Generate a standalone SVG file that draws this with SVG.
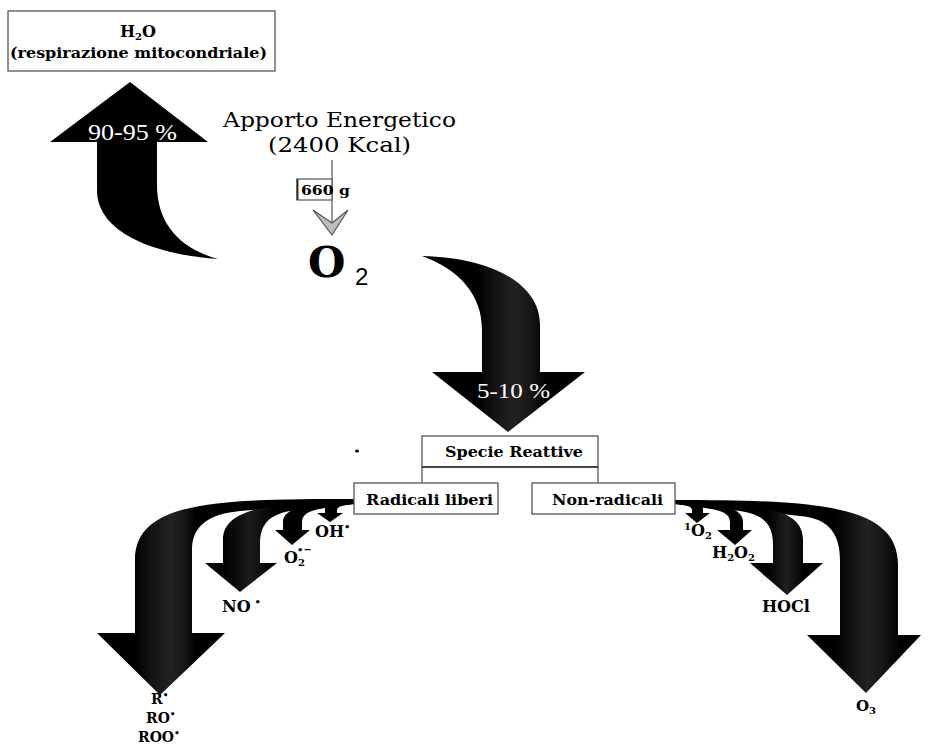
<svg xmlns="http://www.w3.org/2000/svg" width="929" height="750" viewBox="0 0 929 750">
<style>
.bx{fill:#fff;stroke:#555;stroke-width:1.3}
.t{font-family:"DejaVu Serif","Liberation Serif",serif;fill:#000}
.b{font-weight:bold}
.w{font-family:"Liberation Serif","Times New Roman",serif;fill:#fff}
.lbl{font-family:"DejaVu Serif","Liberation Serif",serif;font-weight:bold;fill:#000}
</style>
<defs>
<linearGradient id="gDown" gradientUnits="userSpaceOnUse" x1="478" y1="0" x2="545" y2="0">
<stop offset="0" stop-color="#000"/><stop offset="0.3" stop-color="#161616"/><stop offset="0.55" stop-color="#222"/><stop offset="0.8" stop-color="#161616"/><stop offset="1" stop-color="#000"/></linearGradient>
<linearGradient id="gR" gradientUnits="userSpaceOnUse" x1="135" y1="0" x2="195" y2="0">
<stop offset="0" stop-color="#000"/><stop offset="0.3" stop-color="#151515"/><stop offset="0.6" stop-color="#222"/><stop offset="0.85" stop-color="#151515"/><stop offset="1" stop-color="#000"/></linearGradient>
<linearGradient id="gNO" gradientUnits="userSpaceOnUse" x1="225" y1="0" x2="275" y2="0">
<stop offset="0" stop-color="#000"/><stop offset="0.5" stop-color="#1c1c1c"/><stop offset="1" stop-color="#000"/></linearGradient>
<linearGradient id="gHO" gradientUnits="userSpaceOnUse" x1="768" y1="0" x2="805" y2="0">
<stop offset="0" stop-color="#000"/><stop offset="0.5" stop-color="#1e1e1e"/><stop offset="1" stop-color="#000"/></linearGradient>
<linearGradient id="gO3" gradientUnits="userSpaceOnUse" x1="835" y1="0" x2="900" y2="0">
<stop offset="0" stop-color="#000"/><stop offset="0.3" stop-color="#151515"/><stop offset="0.5" stop-color="#222"/><stop offset="0.75" stop-color="#151515"/><stop offset="1" stop-color="#000"/></linearGradient>
</defs>
<rect width="929" height="750" fill="#fff"/>

<g id="connectors">
<path id="arrow-up" d="M97,142 L50,142 L130,82 L208,142 L157,142 L157,185 C157,222 178,248 218,259 C160,255 97,235 97,190 Z" fill="#000"/>
<path id="arrow-down" d="M422,256 C495,258 540,285 540,325 L540,372 L585,372 L508,432 L432,372 L482,372 L482,330 C482,295 460,270 422,256 Z" fill="url(#gDown)"/>
<g id="gray-arrow">
<line x1="332" y1="160" x2="332" y2="222" stroke="#777" stroke-width="1.5"/>
<polygon points="313,210 332,223 348,210 332,235" fill="#bdbdbd" stroke="#555" stroke-width="1.2"/>
</g>
<g id="fan-left">
<path d="M354,499 C220,499 135,500 135,560 L135,633 L97,633 L160,695 L225,633 L192,633 L192,550 C192,525 210,514 240,511 L354,502 Z" fill="url(#gR)"/>
<path d="M354,501 C270,503 223,508 223,540 L223,563 L205,563 L240,592 L277,563 L260,563 L260,545 C260,525 268,515 290,511 L354,503 Z" fill="url(#gNO)"/>
<path d="M354,502 C305,504 283,508 283,522 L283,530 L275,530 L292,545 L310,530 L302,530 L302,522 C302,514 310,510 325,508 L354,504 Z" fill="#000"/>
<path d="M354,502 C335,502 325,504 325,509 L325,513 L317,513 L330,522 L343,513 L337,513 L337,510 C337,507 342,505 354,504 Z" fill="#000"/>
</g>
<g id="fan-right">
<path d="M675,500 C820,500 898,505 898,565 L898,635 L921,635 L866,693 L807,635 L840,635 L840,560 C840,530 825,518 800,516 L675,502 Z" fill="url(#gO3)"/>
<path d="M675,501 C760,503 803,508 803,540 L803,563 L823,563 L787,595 L750,563 L773,563 L773,545 C773,525 765,515 740,511 L675,503 Z" fill="url(#gHO)"/>
<path d="M675,502 C722,503 743,508 743,522 L743,530 L752,530 L735,545 L717,530 L730,530 L730,522 C730,514 722,510 705,508 L675,504 Z" fill="#000"/>
<path d="M675,502 C693,502 703,504 703,509 L703,513 L710,513 L697,523 L685,513 L692,513 L692,510 C692,507 688,505 675,504 Z" fill="#000"/>
</g>
<line x1="422" y1="467" x2="422" y2="483" stroke="#555" stroke-width="1.3"/>
<line x1="598" y1="467" x2="598" y2="483" stroke="#555" stroke-width="1.3"/>
</g>

<g id="node-h2o">
<rect class="bx" x="8" y="11" width="267" height="60"/>
<text class="t b" x="138" y="37" font-size="16" text-anchor="middle">H<tspan font-size="10" dy="3">2</tspan><tspan dy="-3">O</tspan></text>
<text class="t b" x="10" y="58" font-size="15" textLength="257" lengthAdjust="spacingAndGlyphs">(respirazione mitocondriale)</text>
</g>

<g id="label-9095">
<text class="w" x="88" y="140" font-size="24" textLength="89" lengthAdjust="spacingAndGlyphs">90-95 %</text>
</g>

<g id="node-apporto">
<text class="t" x="223" y="127" font-size="21" textLength="233" lengthAdjust="spacingAndGlyphs">Apporto Energetico</text>
<text class="t" x="268" y="152" font-size="21" textLength="143" lengthAdjust="spacingAndGlyphs">(2400 Kcal)</text>
</g>

<g id="node-660">
<rect x="297" y="179" width="35" height="21" fill="#fff" stroke="#555" stroke-width="1.2"/>
<line x1="297.5" y1="179" x2="297.5" y2="200" stroke="#333" stroke-width="2"/>
<text class="t b" x="301" y="195" font-size="12" textLength="49" lengthAdjust="spacingAndGlyphs">660 g</text>
</g>

<g id="node-o2">
<text class="t b" x="308" y="277" font-size="43">O</text>
<text x="355" y="285" font-family="Liberation Sans, Arial, sans-serif" font-size="24">2</text>
</g>

<g id="label-510">
<text class="w" x="477" y="398" font-size="22" textLength="73" lengthAdjust="spacingAndGlyphs">5-10 %</text>
</g>

<ellipse cx="357" cy="451" rx="2" ry="1.5" fill="#000"/>

<g id="node-specie">
<rect class="bx" x="422" y="436" width="176" height="31"/>
<line x1="422" y1="467" x2="598" y2="467" stroke="#444" stroke-width="2"/>
<text class="t b" x="445" y="457" font-size="15" textLength="138" lengthAdjust="spacingAndGlyphs">Specie Reattive</text>
</g>

<g id="node-radicali">
<rect class="bx" x="354" y="483" width="144" height="31"/>
<text class="t b" x="366" y="505" font-size="15" textLength="127" lengthAdjust="spacingAndGlyphs">Radicali liberi</text>
</g>

<g id="node-nonradicali">
<rect class="bx" x="532" y="483" width="143" height="31"/>
<text class="t b" x="552" y="505" font-size="15" textLength="111" lengthAdjust="spacingAndGlyphs">Non-radicali</text>
</g>

<g id="labels">
<text class="lbl" x="315" y="537" font-size="16">OH<tspan font-size="10" dy="-7">•</tspan></text>
<text class="lbl" x="284" y="563" font-size="16">O<tspan font-size="10" dy="3">2</tspan><tspan x="297" font-size="10" dy="-13">•−</tspan></text>
<text class="lbl" x="222" y="612" font-size="16">NO<tspan font-size="10" dx="4" dy="-7">•</tspan></text>
<text class="lbl" x="151" y="704" font-size="14">R<tspan font-size="9" dy="-6">•</tspan></text>
<text class="lbl" x="146" y="723" font-size="14">RO<tspan font-size="9" dy="-6">•</tspan></text>
<text class="lbl" x="138" y="742" font-size="14">ROO<tspan font-size="9" dy="-6">•</tspan></text>
<text class="lbl" x="684" y="536" font-size="16"><tspan font-size="10" dy="-6">1</tspan><tspan dy="6">O</tspan><tspan font-size="10" dy="3">2</tspan></text>
<text class="lbl" x="712" y="558" font-size="16">H<tspan font-size="10" dy="3">2</tspan><tspan dy="-3">O</tspan><tspan font-size="10" dy="3">2</tspan></text>
<text class="lbl" x="762" y="612" font-size="16">HOCl</text>
<text class="lbl" x="856" y="711" font-size="15">O<tspan font-size="10" dy="3">3</tspan></text>
</g>
</svg>
